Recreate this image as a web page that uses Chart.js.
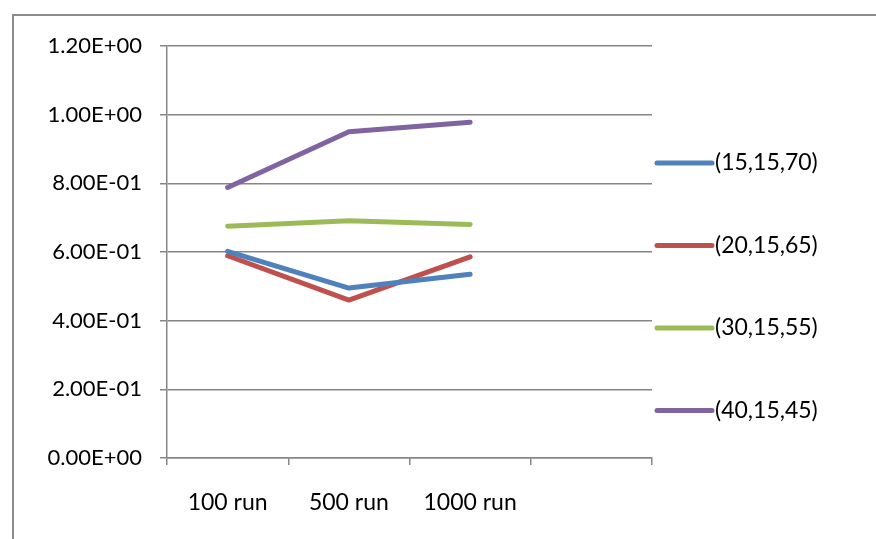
<!DOCTYPE html>
<html>
<head>
<meta charset="utf-8">
<script src="https://cdn.jsdelivr.net/npm/chart.js@4/dist/chart.umd.min.js"></script>
<style>
  html, body { margin: 0; padding: 0; background: #fff; }
  #c { display: block; }
</style>
</head>
<body>
<canvas id="c" width="876" height="539"></canvas>
<script>
// Categories along the x axis (the last slot is left empty)
const categories = ['100 run', '500 run', '1000 run', ''];

// Series names
const seriesNames = ['(15,15,70)', '(20,15,65)', '(30,15,55)', '(40,15,45)'];

// Series values
const series1570 = [0.602, 0.495, 0.535, null];
const series1565 = [0.589, 0.460, 0.586, null];
const series1555 = [0.675, 0.691, 0.680, null];
const series1545 = [0.788, 0.950, 0.978, null];

// Y axis range and step
const yMin = 0;
const yMax = 1.2;
const yStep = 0.2;

const seriesColors = ['#4F81BD', '#C0504D', '#9BBB59', '#8064A2'];
const FAMILY = 'Lato, "Open Sans", sans-serif';
const Y_FONT = { family: FAMILY, size: 22 };
const X_FONT = { family: FAMILY, size: 23 };
const LEGEND_SIZE = 23;
const GRID = '#868686';

// 1.20E+00 style labels
function sci(v) {
  const [m, e] = Number(v).toExponential(2).split('e');
  const n = parseInt(e, 10);
  return m + 'E' + (n < 0 ? '-' : '+') + String(Math.abs(n)).padStart(2, '0');
}

const frameAndLegend = {
  id: 'frameAndLegend',
  beforeDraw(chart) {
    const ctx = chart.ctx;
    ctx.save();
    ctx.fillStyle = '#fff';
    ctx.fillRect(0, 0, chart.width, chart.height);
    ctx.strokeStyle = '#8c8c8c';
    ctx.lineWidth = 2;
    ctx.beginPath();
    ctx.moveTo(13, chart.height);
    ctx.lineTo(13, 15);
    ctx.lineTo(chart.width, 15);
    ctx.stroke();
    ctx.restore();
  },
  afterDraw(chart) {
    const ctx = chart.ctx;
    const x0 = 657, x1 = 712, top = 163, step = 82.5;
    ctx.save();
    ctx.font = LEGEND_SIZE + 'px ' + FAMILY;
    ctx.textBaseline = 'middle';
    ctx.textAlign = 'left';
    chart.data.datasets.forEach((ds, i) => {
      const y = top + i * step;
      ctx.strokeStyle = ds.borderColor;
      ctx.lineWidth = 5;
      ctx.lineCap = 'round';
      ctx.beginPath();
      ctx.moveTo(x0, y);
      ctx.lineTo(x1, y);
      ctx.stroke();
      ctx.fillStyle = '#000';
      ctx.fillText(ds.label, x1 + 3, y);
    });
    ctx.restore();
  }
};

const values = [series1570, series1565, series1555, series1545];

new Chart(document.getElementById('c'), {
  type: 'line',
  data: {
    labels: categories,
    datasets: values.map((d, i) => ({
      label: seriesNames[i],
      data: d,
      borderColor: seriesColors[i],
      backgroundColor: seriesColors[i],
      borderWidth: 5,
      borderCapStyle: 'round',
      borderJoinStyle: 'round',
      pointRadius: 0,
      pointHoverRadius: 0,
      tension: 0,
      fill: false
    }))
  },
  options: {
    responsive: false,
    animation: false,
    devicePixelRatio: 1,
    layout: { padding: { top: 46, right: 224, bottom: 0, left: 0 } },
    plugins: { legend: { display: false }, tooltip: { enabled: false } },
    scales: {
      x: {
        type: 'category',
        offset: true,
        grid: { offset: true, drawOnChartArea: false, drawTicks: true, tickLength: 7, color: GRID, lineWidth: 1.5 },
        border: { color: GRID, width: 1.5 },
        ticks: { font: X_FONT, color: '#000', padding: 24, maxRotation: 0, autoSkip: false },
        afterFit(s) { s.height = 81; }
      },
      y: {
        min: yMin,
        max: yMax,
        grid: { color: GRID, lineWidth: 1.5, tickLength: 7 },
        border: { color: GRID, width: 1.5 },
        ticks: { stepSize: yStep, font: Y_FONT, color: '#000', padding: 18, callback: sci },
        afterFit(s) { s.width = 167; }
      }
    }
  },
  plugins: [frameAndLegend]
});
</script>
</body>
</html>
